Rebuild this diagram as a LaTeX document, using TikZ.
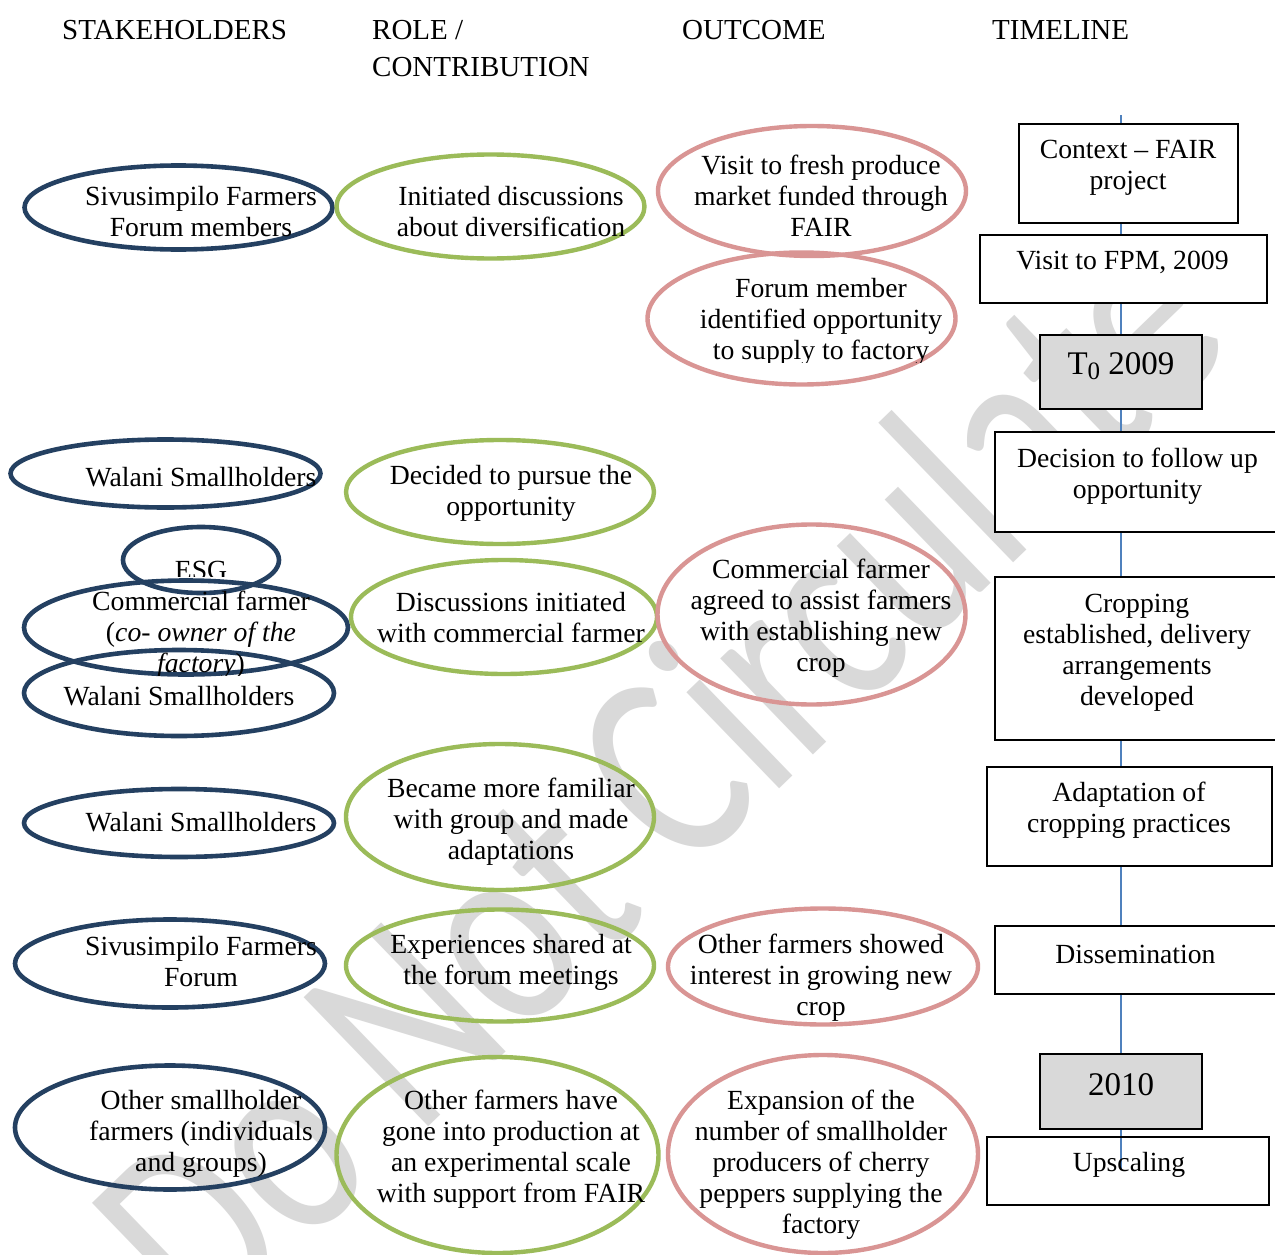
\documentclass[tikz,border=0pt]{standalone}
\usepackage{fontspec}
\setmainfont{Liberation Serif}
\newfontfamily\wmfont{Carlito}
\definecolor{navy}{HTML}{244061}
\definecolor{leaf}{HTML}{9BBB59}
\definecolor{rose}{HTML}{D99594}
\definecolor{tlblue}{HTML}{4F81BD}
\definecolor{wmgray}{HTML}{D9D9D9}
\definecolor{boxgray}{HTML}{D9D9D9}
\newcommand{\subzero}{\raisebox{-0.15em}{\fontsize{25}{25}\selectfont 0}}

\begin{document}
\begin{tikzpicture}[x=1pt,y=-1pt,
  body/.style={font=\fontsize{27.7}{31}\selectfont, align=center, inner sep=0pt, text=black},
  head/.style={font=\fontsize{29}{37}\selectfont, align=left, inner sep=0pt, anchor=north west},
  yeartext/.style={font=\fontsize{33}{36}\selectfont, inner sep=0pt},
  stkring/.style={draw=navy, line width=4.6pt},
  rolering/.style={draw=leaf, line width=4.4pt},
  outring/.style={draw=rose, line width=4.4pt},
  tbox/.style={draw=black, line width=2.4pt, fill=white, rectangle, inner sep=0pt},
  yearbox/.style={tbox, fill=boxgray},
  tline/.style={draw=tlblue, line width=1.4pt},
]
% page
\useasboundingbox (0,0) rectangle (1275,1255);
\fill[white] (0,0) rectangle (1275,1255);

% watermark
\begin{scope}
  \clip (0,0) rectangle (1275,1255);
  \node[font=\wmfont\fontsize{215}{215}\selectfont, text=wmgray, rotate=44, yscale=1.3, inner sep=0pt] (wm) at (655,775) {Do Not Circulate};
\end{scope}

% column headings
\node[head] (hstake) at (62,20) {STAKEHOLDERS};
\node[head] (hrole) at (372,20) {ROLE /\\CONTRIBUTION};
\node[head] (hout) at (682,20) {OUTCOME};
\node[head] (htime) at (992,20) {TIMELINE};

% stakeholder rings
\draw[stkring] (178.5,207.5) ellipse [x radius=154pt, y radius=42pt];
\draw[stkring] (165.5,473.5) ellipse [x radius=155pt, y radius=34pt];
\draw[stkring] (201,560) ellipse [x radius=78pt, y radius=33pt];
\draw[stkring] (186,627.5) ellipse [x radius=162pt, y radius=47pt];
\draw[stkring] (179,693) ellipse [x radius=155pt, y radius=43pt];
\draw[stkring] (179,823) ellipse [x radius=155pt, y radius=34pt];
\draw[stkring] (170,963.5) ellipse [x radius=155pt, y radius=44pt];
\draw[stkring] (170,1127.5) ellipse [x radius=155pt, y radius=62pt];

% role rings
\draw[rolering] (490.5,206.5) ellipse [x radius=154pt, y radius=52pt];
\draw[rolering] (500,492) ellipse [x radius=154pt, y radius=52pt];
\draw[rolering] (504,617) ellipse [x radius=153pt, y radius=57pt];
\draw[rolering] (500,817) ellipse [x radius=154pt, y radius=73pt];
\draw[rolering] (500,965.5) ellipse [x radius=154pt, y radius=56pt];
\draw[rolering] (497.5,1155) ellipse [x radius=161pt, y radius=98pt];

% outcome rings
\draw[outring] (812,191) ellipse [x radius=154pt, y radius=65pt];
\draw[outring] (801.5,318.5) ellipse [x radius=154pt, y radius=66pt];
\draw[outring] (811.5,614.5) ellipse [x radius=154pt, y radius=90pt];
\draw[outring] (823,966.5) ellipse [x radius=155pt, y radius=58pt];
\draw[outring] (823,1154) ellipse [x radius=155pt, y radius=99pt];

% stakeholder texts
\node[body] (s1) at (201,212) {Sivusimpilo Farmers\\Forum members};
\node[body] (s2) at (201,477) {Walani Smallholders};
\begin{scope}
  \clip (100,520) rectangle (300,576);
  \node[body] (s3) at (201,570) {ESG};
\end{scope}
\begin{scope}
  \clip (0,570) rectangle (360,675);
  \node[body] (s4) at (201,635) {Commercial farmer\\(\textit{co- owner of the}\\\textit{factory})};
\end{scope}
\node[body] (s5) at (179,696) {Walani Smallholders};
\node[body] (s6) at (201,822) {Walani Smallholders};
\node[body] (s7) at (201,962) {Sivusimpilo Farmers\\Forum};
\node[body] (s8) at (201,1134) {Other smallholder\\farmers (individuals\\and groups)};

% role texts
\node[body] (r1) at (511,212) {Initiated discussions\\about diversification};
\node[body] (r2) at (511,493) {Decided to pursue the\\opportunity};
\node[body] (r3) at (511,618) {Discussions initiated\\with commercial farmer};
\node[body] (r4) at (511,822) {Became more familiar\\with group and made\\adaptations};
\node[body] (r5) at (511,962) {Experiences shared at\\the forum meetings};
\node[body] (r6) at (511,1149) {Other farmers have\\gone into production at\\an experimental scale\\with support from FAIR};

% outcome texts
\node[body] (o1) at (821,196) {Visit to fresh produce\\market funded through\\FAIR};
\begin{scope}
  \clip (640,250) rectangle (970,362);
  \node[body] (o2) at (821,322) {Forum member\\identified opportunity\\to supply to factory};
\end{scope}
\node[body] (o3) at (821,618) {Commercial farmer\\agreed to assist farmers\\with establishing new\\crop};
\node[body] (o4) at (821,978) {Other farmers showed\\interest in growing new\\crop};
\node[body] (o5) at (821,1165) {Expansion of the\\number of smallholder\\producers of cherry\\peppers supplying the\\factory};

% timeline spine
\coordinate (tltop) at (1121,115);
\coordinate (tlend) at (1121,1170);
\draw[tline] (tltop) -- (tlend);

% timeline boxes
\node[tbox, minimum width=219pt, minimum height=99pt] (b1) at (1128.5,173.5) {};
\node[tbox, minimum width=287pt, minimum height=68pt] (b2) at (1123.5,269) {};
\node[yearbox, minimum width=162pt, minimum height=74pt] (b3) at (1121,372) {};
\node[tbox, minimum width=295pt, minimum height=100pt] (b4) at (1142.5,482) {};
\node[tbox, minimum width=295pt, minimum height=163pt] (b5) at (1142.5,658.5) {};
\node[tbox, minimum width=285pt, minimum height=99pt] (b6) at (1129.5,816.5) {};
\node[tbox, minimum width=295pt, minimum height=68pt] (b7) at (1142.5,960) {};
\node[yearbox, minimum width=162pt, minimum height=75pt] (b8) at (1121,1091.5) {};
\node[tbox, fill=none, minimum width=282pt, minimum height=68pt] (b9) at (1128,1171) {};

% timeline texts
\node[body] (t1) at (1128,168) {Context – FAIR\\project};
\node[body] (t2) at (1122.5,262) {Visit to FPM, 2009};
\node[yeartext] (t3) at (1121,366) {T\subzero{} 2009};
\node[body] (t4) at (1137.5,476) {Decision to follow up\\opportunity};
\node[body] (t5) at (1137,653) {Cropping\\established, delivery\\arrangements\\developed};
\node[body] (t6) at (1129,810) {Adaptation of\\cropping practices};
\node[body] (t7) at (1135.5,954) {Dissemination};
\node[yeartext] (t8) at (1121,1085) {2010};
\node[body] (t9) at (1129,1165) {Upscaling};
\end{tikzpicture}
\end{document}
